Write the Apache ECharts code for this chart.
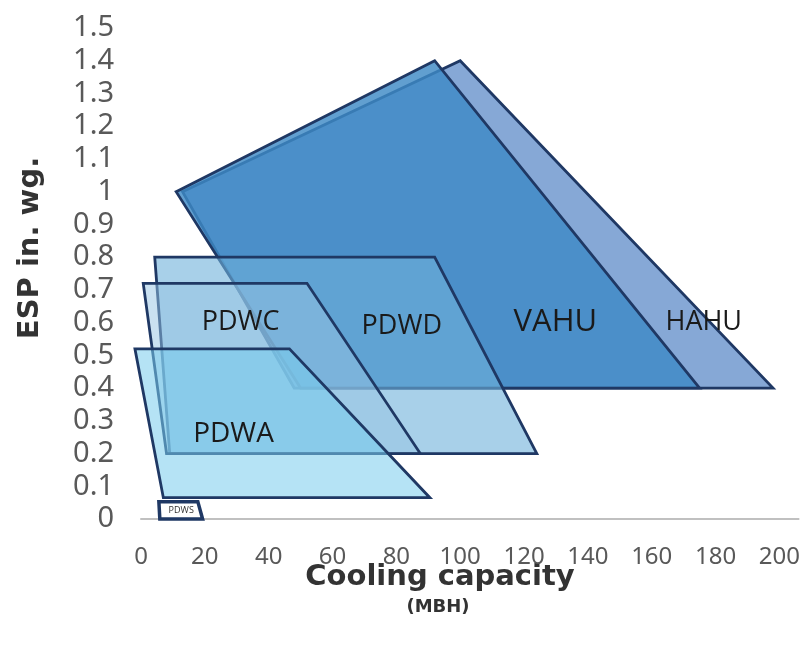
<!DOCTYPE html>
<html>
<head>
<meta charset="utf-8">
<script src="https://cdn.jsdelivr.net/npm/echarts@6/dist/echarts.min.js"></script>
<style>
html,body{margin:0;padding:0;background:#fff;}
#chart{width:803px;height:646px;}
</style>
</head>
<body>
<div id="chart"></div>
<script>
// Operating envelopes: vertices as [cooling capacity (MBH), ESP (in. wg.)]
const HAHU = [[13, 1.0], [100, 1.4], [198, 0.4], [48, 0.4]];
const VAHU = [[11, 1.0], [92, 1.4], [175, 0.4], [50, 0.4]];
const PDWD = [[4.3, 0.8], [92, 0.8], [124, 0.2], [9, 0.2]];
const PDWC = [[0.7, 0.72], [52, 0.72], [87.5, 0.2], [8, 0.2]];
const PDWA = [[-1.9, 0.52], [46.5, 0.52], [90.5, 0.065], [7, 0.065]];
const PDWS = [[5.6, 0.053], [17.8, 0.053], [19.3, 0], [5.9, 0]];
const names = ['HAHU', 'VAHU', 'PDWD', 'PDWC', 'PDWA', 'PDWS'];
// label anchor points (data coords)
const labelAt = {
  HAHU: [176.3, 0.6], VAHU: [129.8, 0.6], PDWD: [81.7, 0.59],
  PDWC: [31.2, 0.6], PDWA: [29, 0.26], PDWS: [12.6, 0.027]
};
const xTicks = [0, 20, 40, 60, 80, 100, 120, 140, 160, 180, 200];

const polys = {HAHU, VAHU, PDWD, PDWC, PDWA, PDWS};
const styles = {
  HAHU: {fill: 'rgba(134,168,214,1)', font: 27},
  VAHU: {fill: 'rgba(62,138,198,0.82)', font: 31},
  PDWD: {fill: 'rgba(110,176,218,0.6)', font: 27},
  PDWC: {fill: 'rgba(150,196,228,0.5)', font: 27},
  PDWA: {fill: 'rgba(120,204,236,0.55)', font: 28},
  PDWS: {fill: '#ffffff', font: 9}
};

function makeSeries(name) {
  const flat = [].concat(...polys[name]);
  const st = styles[name];
  return {
    type: 'custom',
    name: name,
    clip: false,
    data: [flat],
    renderItem: function (params, api) {
      const pts = [];
      for (let i = 0; i < 4; i++) {
        pts.push(api.coord([api.value(2 * i), api.value(2 * i + 1)]));
      }
      const lp = api.coord(labelAt[name]);
      return {
        type: 'group',
        children: [
          {
            type: 'polygon',
            shape: {points: pts},
            style: {fill: st.fill, stroke: '#1f3864', lineWidth: name === 'PDWS' ? 3.5 : 2.8, lineJoin: 'miter'}
          },
          {
            type: 'text',
            x: lp[0], y: lp[1],
            style: {
              text: name, fill: name === 'PDWS' ? '#333' : '#1a1a1a',
              font: st.font + 'px "Open Sans", sans-serif',
              align: 'center', verticalAlign: 'middle'
            }
          }
        ]
      };
    }
  };
}

const chart = echarts.init(document.getElementById('chart'));
chart.setOption({
  animation: false,
  grid: {left: 141, right: 0, top: 28, bottom: 127},
  xAxis: {
    type: 'value', min: 0, max: 206, interval: 20,
    axisLine: {show: true, lineStyle: {color: '#c0c0c0', width: 2}},
    axisTick: {show: false},
    splitLine: {show: false},
    axisLabel: {
      showMaxLabel: false, margin: 26,
      color: '#595959', fontSize: 24, fontFamily: '"Noto Sans", sans-serif',
      formatter: function (v) { return xTicks.indexOf(v) >= 0 ? String(v) : ''; }
    }
  },
  yAxis: {
    type: 'value', min: 0, max: 1.5, interval: 0.1,
    axisLine: {show: false}, axisTick: {show: false}, splitLine: {show: false},
    axisLabel: {margin: 27, color: '#595959', fontSize: 29, fontFamily: '"Noto Sans", sans-serif'}
  },
  graphic: [
    {type: 'text', x: 30, y: 248, rotation: Math.PI / 2, style: {text: 'ESP in. wg.', font: 'bold 29px "DejaVu Sans", sans-serif', fill: '#333', align: 'center', verticalAlign: 'middle'}},
    {type: 'text', x: 440, y: 577, style: {text: 'Cooling capacity', font: 'bold 29px "DejaVu Sans", sans-serif', fill: '#333', align: 'center', verticalAlign: 'middle'}},
    {type: 'text', x: 438, y: 607, style: {text: '(MBH)', font: 'bold 18px "DejaVu Sans", sans-serif', fill: '#333', align: 'center', verticalAlign: 'middle'}}
  ],
  series: names.map(makeSeries)
});
</script>
</body>
</html>
